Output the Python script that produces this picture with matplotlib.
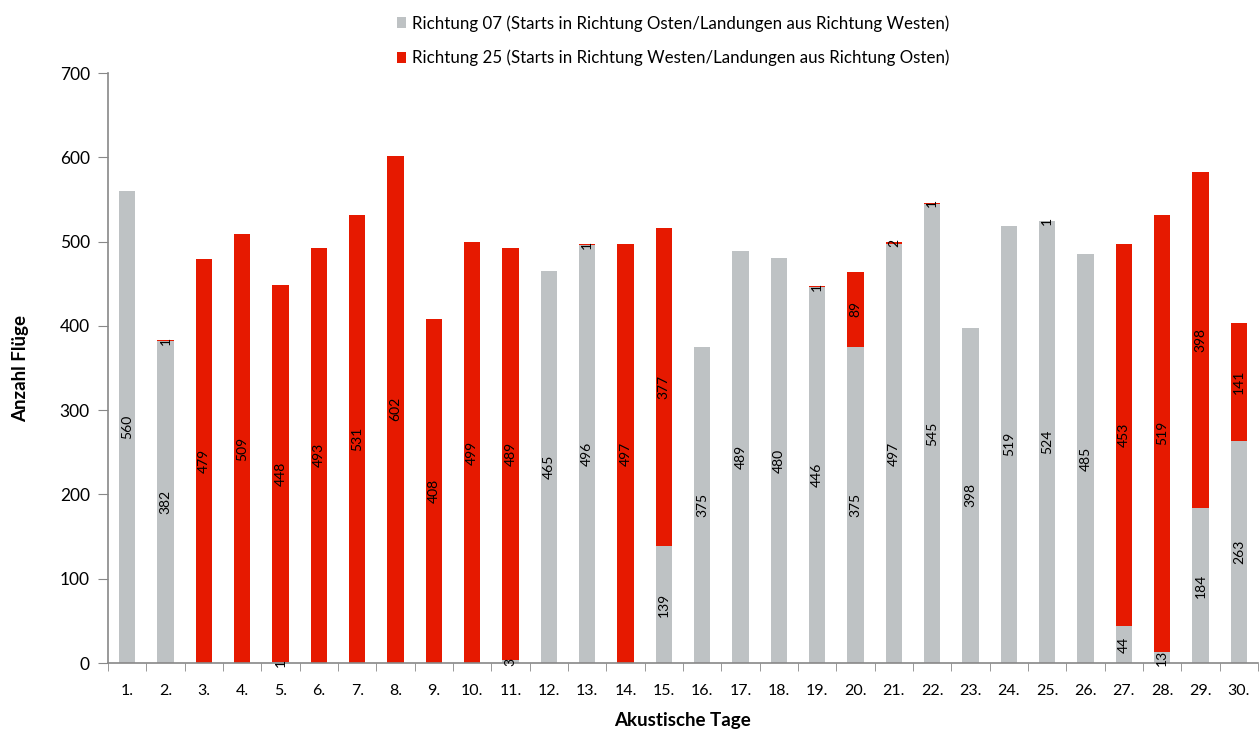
import matplotlib.pyplot as plt
import numpy as np

plt.rcParams['font.family'] = ['Lato', 'DejaVu Sans']

days = [f"{i}." for i in range(1, 31)]
r07 = [560, 382, 0, 0, 1, 0, 0, 0, 0, 0, 3, 465, 496, 0, 139,
       375, 489, 480, 446, 375, 497, 545, 398, 519, 524, 485, 44, 13, 184, 263]
r25 = [0, 1, 479, 509, 448, 493, 531, 602, 408, 499, 489, 0, 1, 497, 377,
       0, 0, 0, 1, 89, 2, 1, 0, 0, 1, 0, 453, 519, 398, 141]

grey = '#BEC2C4'
red = '#E61900'

fig = plt.figure(figsize=(12.6, 7.34), dpi=100)
ax = fig.add_axes([0.0857, 0.0967, 0.9127, 0.8038])

x = np.arange(len(days))
b1 = ax.bar(x, r07, width=0.42, color=grey,
            label="Richtung 07 (Starts in Richtung Osten/Landungen aus Richtung Westen)")
b2 = ax.bar(x, r25, width=0.42, bottom=r07, color=red,
            label="Richtung 25 (Starts in Richtung Westen/Landungen aus Richtung Osten)")

# value labels in the middle of each segment
for i in range(len(days)):
    if r07[i] > 0:
        ax.text(x[i], r07[i] / 2, str(r07[i]), rotation=90, ha='center', va='center',
                fontsize=10, color='black')
    if r25[i] > 0:
        ax.text(x[i], r07[i] + r25[i] / 2, str(r25[i]), rotation=90, ha='center', va='center',
                fontsize=10, color='black')

ax.set_xlim(-0.5, len(days) - 0.5)
ax.set_ylim(0, 700)
ax.set_yticks(range(0, 701, 100))
ax.set_xticks(x)
ax.set_xticklabels(days, fontsize=11.5)
ax.set_xticks(np.arange(-0.5, len(days), 1), minor=True)
ax.tick_params(axis='x', which='major', length=0, pad=15)
ax.tick_params(axis='x', which='minor', length=6, color='#888888')
ax.tick_params(axis='y', length=7, color='#888888', labelsize=12.5, pad=6)

for s in ['top', 'right']:
    ax.spines[s].set_visible(False)
for s in ['left', 'bottom']:
    ax.spines[s].set_color('#888888')
    ax.spines[s].set_linewidth(1.2)

ax.set_ylabel("Anzahl Flüge", fontsize=13.5, fontweight='bold', labelpad=22)
ax.set_xlabel("Akustische Tage", fontsize=13.5, fontweight='bold', labelpad=10)

fig.legend(loc='upper center', bbox_to_anchor=(0.534, 1.0), ncol=1, frameon=False,
           fontsize=12.2, handlelength=0.55, handleheight=0.6, handletextpad=0.35,
           labelspacing=1.05)

plt.savefig("out.png", dpi=100)
